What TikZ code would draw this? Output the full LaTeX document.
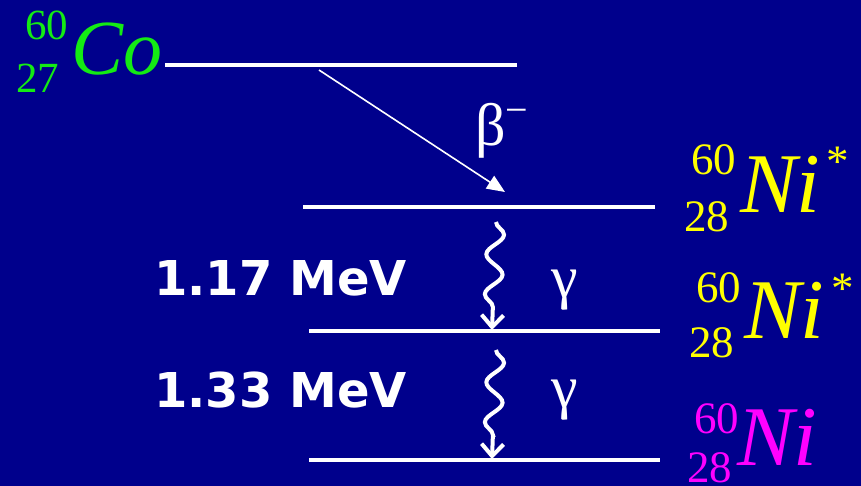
\documentclass[tikz,border=0pt]{standalone}
\usepackage{fontspec}
\setmainfont{Liberation Serif}
\newfontfamily\labfont{DejaVu Sans}
\usetikzlibrary{arrows.meta,decorations.pathmorphing}
\definecolor{bg}{RGB}{0,0,140}
\definecolor{cogreen}{RGB}{20,235,20}
\definecolor{niyellow}{RGB}{255,255,0}
\definecolor{nimag}{RGB}{255,0,255}
\tikzset{
  level/.style={draw=white,line width=4pt},
  elem/.style={inner sep=0pt,anchor=base west,font=\fontsize{78}{78}\selectfont\itshape},
  nielem/.style={elem,font=\fontsize{85}{85}\selectfont\itshape},
  nuc/.style={inner sep=0pt,anchor=base west,font=\fontsize{43}{43}\selectfont},
  ninuc/.style={nuc,font=\fontsize{45}{45}\selectfont},
  energy/.style={inner sep=0pt,anchor=base west,text=white,font=\labfont\bfseries\fontsize{48}{48}\selectfont},
  greek/.style={inner sep=0pt,anchor=base,text=white,font=\fontsize{60}{60}\selectfont},
  gammaray/.style={draw=white,line width=4pt,decorate,
    decoration={snake,amplitude=8.5pt,segment length=40pt,post length=14pt},
    -{Straight Barb[length=12pt,width=22pt,line width=4pt]}},
  betaarrow/.style={draw=white,line width=1.6pt,-{Triangle[length=18pt,width=15pt]}}
}
\begin{document}
\begin{tikzpicture}[x=1pt,y=-1pt]
\useasboundingbox (0,0) rectangle (861,486);
\fill[bg] (0,0) rectangle (861,486);
% levels
\coordinate (co1) at (165,65);  \coordinate (co2) at (517,65);
\coordinate (a1) at (303,207);  \coordinate (a2) at (655,207);
\coordinate (b1) at (309,331);  \coordinate (b2) at (660,331);
\coordinate (c1) at (309,460);  \coordinate (c2) at (660,460);
\draw[level] (co1) -- (co2);
\draw[level] (a1) -- (a2);
\draw[level] (b1) -- (b2);
\draw[level] (c1) -- (c2);
% beta decay
\coordinate (bs) at (319,70);
\coordinate (be) at (505,192);
\draw[betaarrow] (bs) -- (be);
\node[greek] (beta) at (502,146) {β\raisebox{22pt}{\fontsize{40}{40}\selectfont −}};
% gamma rays
\coordinate (g1s) at (496,222);
\coordinate (g1e) at (492,330);
\coordinate (g2s) at (496,350);
\coordinate (g2e) at (492,459);
\draw[gammaray] (g1s) -- (g1e);
\draw[gammaray] (g2s) -- (g2e);
\node[greek] (gam1) at (565,297) {γ};
\node[greek] (gam2) at (565,407) {γ};
% energies
\node[energy] (e1) at (154,295) {1.17 MeV};
\node[energy] (e2) at (154,407) {1.33 MeV};
% Co
\node[elem,text=cogreen] (co) at (71,75) {Co};
\node[nuc,text=cogreen] (coA) at (25,40) {60};
\node[nuc,text=cogreen] (coZ) at (16,93) {27};
% Ni* upper
\node[nielem,text=niyellow] (ni1) at (740,213) {Ni};
\node[ninuc,text=niyellow] (ni1A) at (691,175) {60};
\node[ninuc,text=niyellow] (ni1Z) at (684,232) {28};
\node[ninuc,text=niyellow] (ni1s) at (826,177) {*};
% Ni* lower
\node[nielem,text=niyellow] (ni2) at (744,338) {Ni};
\node[ninuc,text=niyellow] (ni2A) at (696,302) {60};
\node[ninuc,text=niyellow] (ni2Z) at (689,357) {28};
\node[ninuc,text=niyellow] (ni2s) at (831,303) {*};
% Ni ground
\node[nielem,text=nimag] (ni3) at (737,465) {Ni};
\node[ninuc,text=nimag] (ni3A) at (694,433) {60};
\node[ninuc,text=nimag] (ni3Z) at (687,482) {28};
\end{tikzpicture}
\end{document}
